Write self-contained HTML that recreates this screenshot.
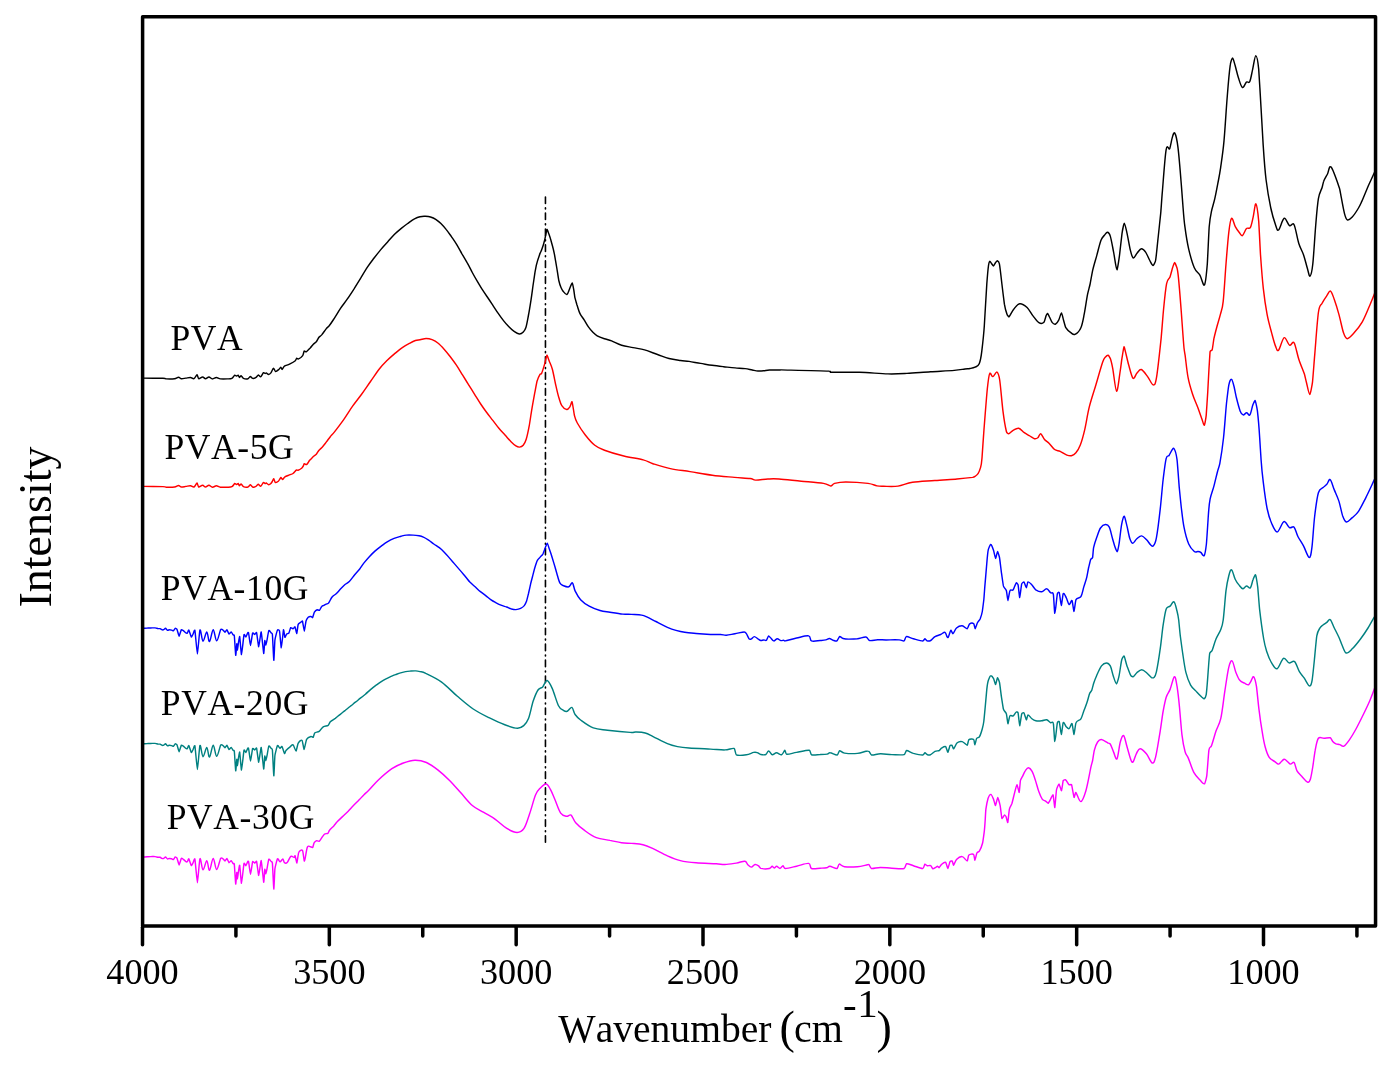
<!DOCTYPE html>
<html><head><meta charset="utf-8"><title>FTIR spectra</title><style>
html,body{margin:0;padding:0;background:#fff;width:1393px;height:1071px;overflow:hidden}
svg{display:block}
text{font-family:"Liberation Serif","Times New Roman",serif;fill:#000;font-kerning:none}
</style></head><body>
<svg width="1393" height="1071" viewBox="0 0 1393 1071">
<rect width="1393" height="1071" fill="#fff"/>
<line x1="545.45" y1="197" x2="545.45" y2="842.7" stroke="#000" stroke-width="1.6" stroke-linecap="round" stroke-dasharray="6.5 4.4 1 4.07"/>
<g fill="none" stroke-width="1.45" stroke-linejoin="round" stroke-linecap="round">
<path stroke="#000000" d="M142.9,378.1C146.2,378.1 159.1,378.2 163.0,378.3C166.9,378.4 164.5,378.8 166.4,378.9C168.3,379.0 172.5,379.0 174.5,378.7C176.5,378.4 177.3,377.2 178.5,377.2C179.7,377.2 180.2,378.5 181.4,378.7C182.6,378.9 184.4,378.3 185.9,378.1C187.4,377.9 189.2,377.4 190.5,377.5C191.8,377.6 192.9,379.2 194.0,378.7C195.1,378.2 196.3,374.7 197.1,374.7C197.4,374.7 198.2,378.5 198.6,378.7C199.5,379.1 201.4,377.0 202.6,377.0C203.8,377.0 204.4,378.7 205.5,378.7C206.6,378.7 207.8,377.0 208.9,377.0C210.1,377.0 211.2,378.8 212.4,378.9C213.7,379.0 215.1,377.5 216.4,377.5C217.7,377.5 218.6,378.7 220.4,378.9C222.2,379.1 225.4,379.0 227.3,378.9C229.2,378.8 230.7,378.9 231.9,378.3C233.2,377.7 234.0,375.6 234.8,375.2C235.1,375.1 236.3,376.1 236.5,376.1C236.7,376.1 238.0,375.1 238.2,375.2C238.4,375.3 239.2,377.5 239.4,377.5C239.6,377.5 240.8,375.5 241.1,375.6C241.4,375.7 242.9,378.1 243.4,378.3C244.6,378.8 246.8,379.0 248.0,378.7C248.5,378.6 250.0,376.4 250.3,376.4C250.6,376.4 252.2,378.3 252.6,378.4C253.5,378.6 255.1,378.0 256.0,377.4C256.4,377.2 258.0,374.9 258.3,374.9C258.6,374.9 260.3,377.1 260.6,376.9C261.5,376.5 262.7,373.2 263.5,372.6C263.8,372.4 265.0,373.5 265.2,373.5C265.4,373.5 266.1,372.8 266.3,372.9C266.5,373.0 268.3,374.4 268.6,374.4C268.9,374.4 270.6,373.3 270.9,372.9C271.7,371.9 272.8,368.4 273.6,368.2C273.9,368.1 275.1,371.5 275.5,371.6C276.4,371.8 278.1,370.1 279.0,369.3C279.4,369.0 280.7,367.1 280.9,367.1C281.1,367.1 281.9,369.5 282.1,369.4C282.3,369.3 283.9,366.5 284.4,366.2C285.6,365.3 287.7,365.1 289.5,364.2C291.3,363.3 294.1,361.8 295.3,360.8C295.8,360.4 296.5,358.3 296.7,358.2C296.9,358.1 297.7,359.3 298.1,359.1C299.1,358.7 301.7,357.0 302.7,355.6C303.1,355.1 304.0,351.2 304.2,351.0C304.4,350.8 305.8,352.1 306.2,351.9C307.2,351.4 309.0,349.1 310.2,347.9C311.4,346.6 312.1,345.5 313.1,344.4C314.2,343.3 315.6,342.6 316.5,341.5C316.9,341.0 318.5,337.9 318.8,337.5C319.7,336.4 320.4,336.4 321.7,334.9C322.9,333.4 325.1,330.1 326.3,328.6C327.6,327.1 328.1,327.1 329.2,325.7C330.3,324.3 331.3,322.9 333.2,320.0C335.1,317.1 338.2,311.9 340.5,308.4C342.8,304.9 345.0,302.4 347.2,299.2C349.4,296.0 351.6,292.6 353.9,289.1C356.1,285.6 358.4,281.9 360.7,278.2C362.9,274.5 365.2,270.6 367.4,267.2C369.6,263.8 371.9,260.9 374.1,258.0C376.3,255.1 378.6,252.3 380.8,249.6C383.1,246.9 385.4,244.5 387.6,242.0C389.9,239.5 392.1,236.7 394.3,234.5C396.5,232.3 398.8,230.4 401.0,228.6C403.2,226.8 405.4,225.1 407.7,223.5C409.9,221.9 412.4,219.9 414.5,218.8C416.6,217.7 418.2,217.1 420.0,216.7C421.8,216.3 423.4,216.2 425.2,216.3C426.9,216.4 428.8,216.5 430.5,217.0C432.2,217.5 434.0,218.2 435.7,219.3C437.4,220.4 439.2,221.8 440.9,223.5C442.6,225.2 444.4,227.2 446.1,229.4C447.9,231.6 449.6,234.1 451.4,236.6C453.1,239.1 454.9,241.6 456.6,244.4C458.3,247.2 460.1,250.6 461.8,253.6C463.6,256.6 465.4,259.6 467.1,262.7C468.9,265.8 470.6,269.3 472.3,272.5C474.0,275.7 475.8,278.8 477.5,281.7C479.2,284.6 480.9,287.5 482.7,290.2C484.4,292.9 486.2,295.4 488.0,298.0C489.8,300.6 491.5,303.3 493.2,305.9C494.9,308.5 496.6,311.2 498.4,313.7C500.1,316.2 501.9,318.7 503.7,320.9C505.4,323.1 507.2,325.1 508.9,326.8C510.6,328.6 512.4,330.2 514.1,331.4C515.8,332.6 517.8,333.9 519.3,334.0C520.8,334.1 522.2,333.1 523.3,332.0C524.4,330.9 525.0,330.3 525.9,327.5C526.8,324.7 527.6,319.7 528.5,315.0C529.4,310.3 530.2,305.0 531.1,299.3C532.0,293.6 532.8,286.6 533.7,281.0C534.0,278.7 535.9,267.2 536.3,265.4C537.3,260.8 539.1,256.1 540.0,253.6C540.3,252.6 541.3,250.9 541.5,250.3C541.7,249.7 543.1,245.7 543.3,245.0C543.5,244.3 544.6,240.5 544.8,239.5C545.0,238.5 546.7,229.8 546.9,229.4C547.1,229.0 548.3,232.5 548.5,233.0C548.7,233.5 549.8,236.5 550.1,237.4C550.4,238.3 552.2,244.9 552.5,246.0C552.8,247.1 554.2,253.1 554.5,254.6C554.8,256.1 556.5,266.3 556.8,268.0C557.1,269.7 558.5,279.2 558.8,280.5C559.1,281.8 560.7,286.8 561.0,287.5C561.3,288.2 562.7,290.7 563.1,291.2C564.1,292.4 565.8,294.9 566.9,294.5C568.0,294.1 568.6,291.0 569.5,289.1C570.4,287.2 571.6,282.9 572.3,283.0C572.6,283.1 573.6,289.0 573.8,290.0C574.0,291.0 574.7,296.7 574.9,297.7C575.1,298.7 576.7,303.9 577.0,305.0C577.9,307.6 578.8,311.1 580.0,313.6C581.2,316.1 582.9,317.8 584.3,320.1C585.7,322.4 587.2,325.2 588.6,327.2C590.0,329.2 591.5,330.9 592.9,332.3C594.3,333.7 595.3,334.7 597.2,335.8C599.1,336.9 602.0,337.9 604.4,338.7C606.8,339.5 608.7,339.8 611.6,340.9C614.5,342.0 618.0,344.1 621.6,345.2C625.2,346.3 629.3,346.8 633.1,347.6C636.9,348.4 640.5,348.8 644.6,349.9C648.7,351.0 653.4,353.1 657.5,354.5C661.6,355.9 665.2,357.5 669.0,358.5C672.8,359.5 677.1,360.0 680.5,360.5C683.9,361.0 685.8,360.9 689.1,361.4C692.5,361.9 696.8,362.8 700.6,363.4C704.4,364.0 708.3,364.8 712.1,365.3C715.9,365.9 719.8,366.3 723.6,366.7C727.4,367.1 731.5,367.6 735.1,367.9C738.7,368.2 742.2,368.2 745.1,368.6C748.0,369.0 750.1,369.6 752.3,370.0C754.4,370.4 756.1,370.9 758.0,371.0C759.9,371.1 761.9,370.9 763.8,370.7C765.7,370.5 766.8,370.1 769.5,370.0C772.2,369.9 778.0,370.0 780.0,370.0C780.8,370.0 778.1,369.8 781.3,369.9C789.4,370.1 820.4,370.7 828.7,371.1C832.0,371.3 829.0,372.2 831.1,372.3C836.2,372.5 850.0,372.0 859.5,372.3C869.0,372.6 880.1,373.7 888.0,373.9C895.9,374.1 899.8,373.8 906.9,373.4C914.0,373.0 922.7,372.3 930.6,371.8C938.5,371.3 948.6,370.9 954.3,370.4C960.0,369.9 962.4,369.3 965.0,369.0C967.6,368.7 968.3,368.8 970.0,368.5C971.7,368.2 973.5,368.0 975.0,367.2C976.5,366.4 978.1,366.5 979.2,363.8C979.7,362.7 981.5,353.7 981.8,351.2C982.1,348.7 984.0,330.5 984.3,326.0C984.6,321.5 986.5,288.0 986.8,284.0C987.1,280.0 988.3,267.0 988.5,265.5C988.7,264.0 989.6,261.4 989.8,261.3C990.0,261.2 991.3,263.2 991.5,263.5C991.7,263.8 993.2,265.9 993.5,265.9C993.8,265.9 995.1,263.3 995.3,263.0C995.5,262.7 996.9,260.7 997.2,260.8C997.5,260.9 999.1,262.3 999.4,263.8C999.7,265.3 1001.6,281.3 1001.9,284.0C1002.2,286.7 1004.1,302.2 1004.4,304.2C1005.2,309.2 1006.2,312.1 1007.0,314.2C1007.3,315.0 1008.6,317.1 1009.0,316.8C1010.1,316.0 1011.9,311.4 1013.7,309.2C1015.5,307.0 1017.4,304.1 1019.6,303.8C1021.8,303.5 1024.9,305.5 1027.1,307.5C1029.3,309.5 1031.0,313.4 1033.0,315.9C1035.0,318.4 1037.1,321.5 1038.9,322.6C1040.7,323.7 1042.7,323.4 1043.9,322.3C1044.4,321.9 1045.8,316.6 1046.0,316.0C1046.2,315.4 1047.4,313.3 1047.6,313.4C1047.8,313.5 1049.2,316.4 1049.5,317.0C1050.3,318.5 1051.3,321.4 1052.3,322.6C1053.3,323.8 1054.6,324.4 1055.7,324.0C1056.8,323.6 1057.7,322.0 1058.7,320.1C1059.7,318.2 1060.8,312.9 1061.6,312.9C1061.9,312.9 1063.2,319.0 1063.5,320.0C1063.8,321.0 1065.3,326.9 1065.8,327.7C1067.0,329.8 1069.3,331.6 1070.8,332.7C1072.3,333.8 1073.3,335.2 1075.0,334.4C1076.7,333.6 1079.4,331.1 1080.9,327.7C1082.4,324.3 1083.1,319.8 1084.2,314.2C1085.3,308.6 1086.6,299.1 1087.6,294.1C1088.0,292.1 1089.8,285.6 1090.1,284.0C1090.4,282.4 1092.2,272.5 1092.6,270.6C1093.7,265.8 1095.4,260.4 1096.8,255.4C1098.2,250.3 1099.7,243.7 1101.0,240.3C1102.3,237.0 1103.3,236.6 1104.4,235.3C1105.5,234.0 1106.4,232.2 1107.4,232.3C1108.4,232.4 1109.3,232.8 1110.3,236.1C1111.3,239.4 1112.5,246.5 1113.6,252.1C1114.7,257.7 1116.0,269.1 1117.0,269.7C1117.4,269.9 1119.2,257.8 1119.5,255.4C1119.8,253.0 1121.7,235.7 1122.0,233.6C1122.3,231.5 1123.9,223.2 1124.2,223.2C1125.0,223.2 1126.1,229.1 1127.1,233.6C1128.1,238.1 1129.4,246.3 1130.4,250.4C1131.4,254.5 1132.2,257.6 1133.3,258.0C1134.4,258.4 1135.8,254.5 1137.2,252.9C1138.6,251.3 1140.0,248.8 1141.4,248.7C1142.8,248.6 1144.2,250.1 1145.6,252.1C1147.0,254.1 1148.5,258.3 1149.8,260.5C1151.0,262.7 1152.1,265.5 1153.1,265.5C1153.5,265.5 1155.3,262.4 1155.6,260.5C1156.4,255.8 1157.3,244.8 1158.2,237.0C1158.5,233.9 1160.4,216.4 1160.7,213.4C1161.0,210.4 1161.9,196.6 1162.3,192.4C1163.2,181.8 1164.9,157.1 1166.1,149.8C1167.3,142.5 1168.7,150.6 1169.7,148.7C1170.1,148.0 1171.7,139.6 1172.0,138.6C1172.8,136.0 1173.7,131.5 1174.7,133.0C1175.7,134.5 1176.9,138.8 1178.0,147.6C1179.1,156.4 1180.6,175.6 1181.4,185.7C1181.7,189.7 1182.9,205.3 1183.1,208.0C1183.3,210.7 1184.5,224.0 1184.9,226.7C1185.8,233.5 1187.1,242.3 1188.7,249.1C1190.3,255.9 1192.4,263.3 1194.3,267.7C1196.2,272.1 1198.2,272.3 1199.9,275.2C1201.6,278.1 1203.3,286.8 1204.5,284.9C1205.7,283.0 1206.5,273.7 1207.3,264.0C1207.6,260.1 1208.9,230.2 1209.2,226.7C1209.5,223.2 1211.0,213.6 1211.4,211.7C1212.3,207.0 1213.6,204.0 1214.8,198.7C1216.0,193.4 1217.5,185.2 1218.5,180.0C1218.9,177.9 1220.2,170.4 1220.6,167.8C1221.5,161.3 1222.9,152.9 1224.0,140.9C1225.1,128.9 1226.2,108.7 1227.3,96.0C1228.3,83.3 1229.4,71.0 1230.3,64.7C1230.6,62.2 1232.2,57.8 1232.5,57.9C1233.3,58.1 1234.2,62.4 1235.2,65.8C1236.2,69.2 1237.3,74.5 1238.5,78.1C1239.7,81.7 1241.1,86.8 1242.4,87.5C1243.7,88.2 1245.2,83.1 1246.4,82.1C1247.6,81.1 1248.8,83.7 1249.8,81.5C1250.8,79.3 1251.7,73.4 1252.7,69.1C1253.7,64.8 1254.8,55.7 1255.8,55.7C1256.8,55.7 1257.8,60.5 1258.7,69.1C1259.0,72.5 1260.7,102.1 1261.0,107.2C1261.3,112.3 1262.9,140.5 1263.2,145.4C1264.0,157.5 1264.8,169.6 1266.1,180.0C1267.4,190.4 1269.2,200.5 1270.8,208.0C1272.4,215.5 1274.2,221.1 1275.5,224.8C1276.8,228.5 1277.1,231.1 1278.6,230.0C1280.0,228.9 1282.4,219.0 1284.2,218.3C1286.0,217.6 1287.8,224.6 1289.5,225.7C1291.2,226.8 1292.5,221.8 1294.1,224.8C1295.6,227.8 1297.2,238.5 1298.8,243.5C1300.4,248.5 1302.1,250.7 1303.5,254.7C1304.9,258.7 1306.1,264.1 1307.2,267.7C1308.3,271.3 1309.1,276.7 1310.0,276.1C1310.9,275.5 1311.9,272.2 1312.8,264.0C1313.7,255.8 1314.7,237.6 1315.6,226.7C1316.5,215.8 1317.3,205.2 1318.4,198.7C1319.5,192.2 1321.2,190.4 1322.1,187.5C1322.5,186.3 1323.3,182.1 1323.7,181.2C1324.6,178.9 1326.3,176.3 1327.5,174.0C1328.7,171.7 1329.1,164.8 1331.1,167.1C1333.1,169.4 1337.8,183.4 1339.4,188.0C1340.0,189.9 1340.5,193.2 1340.8,194.9C1341.6,199.2 1343.4,209.4 1344.5,213.6C1345.6,217.8 1346.0,219.2 1347.3,219.8C1348.5,220.4 1350.1,219.3 1352.0,217.3C1353.9,215.3 1356.9,210.7 1358.5,208.0C1360.1,205.3 1360.3,204.7 1361.8,201.4C1363.3,198.1 1365.9,191.6 1367.4,188.0C1368.9,184.4 1369.6,183.0 1371.0,180.0C1372.4,177.0 1374.8,171.7 1375.6,170.0"/>
<path stroke="#ff0000" d="M142.9,486.4C146.2,486.4 159.1,486.5 163.0,486.6C166.9,486.7 164.5,487.1 166.4,487.2C168.3,487.3 172.5,487.3 174.5,487.0C176.5,486.7 177.3,485.5 178.5,485.5C179.7,485.5 180.2,486.9 181.4,487.0C182.6,487.1 184.4,486.6 185.9,486.4C187.4,486.2 189.2,485.7 190.5,485.8C191.8,485.9 192.9,487.5 194.0,487.0C195.1,486.5 196.3,483.0 197.1,483.0C197.4,483.0 198.2,486.8 198.6,487.0C199.5,487.4 201.4,485.3 202.6,485.3C203.8,485.3 204.4,487.0 205.5,487.0C206.6,487.0 207.8,485.3 208.9,485.3C210.1,485.3 211.2,487.1 212.4,487.2C213.7,487.3 215.1,485.8 216.4,485.8C217.7,485.8 218.6,487.0 220.4,487.2C222.2,487.4 225.4,487.3 227.3,487.2C229.2,487.1 230.7,487.2 231.9,486.6C233.2,486.0 234.0,483.9 234.8,483.5C235.1,483.4 236.3,484.4 236.5,484.4C236.7,484.4 238.0,483.4 238.2,483.5C238.4,483.6 239.2,485.8 239.4,485.8C239.6,485.8 240.8,483.8 241.1,483.9C241.4,484.0 242.9,486.4 243.4,486.6C244.6,487.1 246.8,487.3 248.0,487.0C248.5,486.9 250.0,484.7 250.3,484.7C250.6,484.7 252.2,486.9 252.6,487.0C253.5,487.3 255.1,486.9 256.0,486.4C256.4,486.2 258.0,484.1 258.3,484.1C258.6,484.1 260.3,486.5 260.6,486.4C261.5,486.1 262.7,482.9 263.5,482.4C263.8,482.2 265.0,483.5 265.2,483.5C265.4,483.5 266.1,482.9 266.3,483.0C266.5,483.1 268.3,484.7 268.6,484.7C268.9,484.7 270.7,483.7 270.9,483.5C271.1,483.3 272.1,481.8 272.3,481.5C272.5,481.2 273.5,478.6 273.7,478.7C273.9,478.8 274.9,482.2 275.2,482.4C276.0,482.8 277.7,481.8 278.6,481.0C279.0,480.7 280.6,477.6 280.9,477.5C281.2,477.4 282.3,479.5 282.6,479.5C282.9,479.5 284.4,477.2 284.9,476.9C286.0,476.1 288.1,475.5 289.5,474.9C290.9,474.3 291.9,474.3 293.0,473.5C294.1,472.7 295.5,470.5 296.4,470.0C296.7,469.8 297.8,470.4 298.1,470.3C299.0,470.0 300.7,469.0 301.6,468.3C301.9,468.0 303.1,466.3 303.3,466.0C303.5,465.7 304.0,463.8 304.2,463.7C304.8,463.4 305.9,464.9 306.8,464.3C307.7,463.7 308.6,461.6 309.6,460.3C310.7,459.1 312.0,457.9 313.1,456.8C314.2,455.8 315.6,455.1 316.5,454.0C316.9,453.6 318.4,451.0 318.8,450.5C319.9,449.2 321.5,448.0 322.8,446.5C324.1,445.0 325.6,442.9 326.9,441.3C328.1,439.7 329.0,438.3 330.3,436.7C331.6,435.1 332.5,434.5 334.7,431.6C336.9,428.8 340.7,423.8 343.7,419.6C346.7,415.4 349.6,410.4 352.6,406.2C355.6,402.0 358.6,398.3 361.6,394.2C364.6,390.1 367.5,385.7 370.5,381.5C373.5,377.3 376.8,372.3 379.5,368.8C382.2,365.3 384.5,363.1 387.0,360.6C389.5,358.1 391.9,356.0 394.4,353.9C396.9,351.8 399.4,349.6 401.9,347.9C404.4,346.1 407.1,344.6 409.4,343.4C411.6,342.2 413.6,341.1 415.4,340.5C417.2,339.9 418.2,340.0 420.0,339.7C421.8,339.4 424.1,338.5 426.1,338.5C428.1,338.5 430.1,338.9 432.1,339.7C434.1,340.5 436.2,341.7 438.2,343.3C440.2,344.9 442.3,347.2 444.3,349.4C446.3,351.6 448.3,354.1 450.3,356.7C452.3,359.3 454.4,362.2 456.4,365.2C458.4,368.2 460.5,371.7 462.5,374.9C464.5,378.1 466.5,381.4 468.5,384.6C470.5,387.8 472.6,391.1 474.6,394.3C476.6,397.5 478.7,401.0 480.7,404.0C482.7,407.0 484.7,409.8 486.7,412.5C488.7,415.2 490.8,417.8 492.8,420.4C494.8,423.0 496.9,425.9 498.9,428.3C500.9,430.7 503.0,432.8 505.0,435.0C507.0,437.2 509.2,439.9 511.0,441.7C512.8,443.5 514.5,445.0 515.9,445.9C517.3,446.8 518.3,447.2 519.5,447.1C520.7,447.0 522.1,446.6 523.2,445.3C524.3,444.0 525.2,442.4 526.2,439.2C527.2,436.0 528.3,430.8 529.2,425.9C529.6,424.0 531.3,412.3 531.7,410.1C532.6,404.6 533.8,398.0 534.7,393.1C535.1,391.2 536.7,382.3 537.1,381.0C538.0,377.9 539.3,375.5 540.0,374.3C540.3,373.8 541.2,374.2 541.5,373.6C542.2,372.0 543.5,368.0 544.4,364.9C544.8,363.7 546.6,355.5 546.9,355.2C547.2,354.9 548.8,360.0 549.2,361.0C550.1,363.4 551.4,365.5 552.5,369.7C553.6,373.9 554.9,381.5 556.0,386.2C557.1,390.9 557.9,394.6 558.9,397.8C559.9,401.0 560.5,403.7 561.8,405.6C563.1,407.6 565.3,409.3 566.7,409.5C568.1,409.7 569.1,407.9 570.0,406.6C570.4,406.1 571.8,401.1 572.1,401.7C572.4,402.3 574.1,413.9 574.4,415.3C575.3,418.9 575.5,419.8 577.3,423.0C579.1,426.2 582.2,431.0 585.1,434.7C588.0,438.4 591.6,442.7 594.8,445.3C598.0,447.9 599.7,448.4 604.5,450.2C609.3,452.0 617.3,454.4 623.8,456.0C630.2,457.6 638.4,458.6 643.2,459.9C648.1,461.2 648.4,462.2 652.9,463.7C657.4,465.1 664.2,467.3 670.4,468.6C676.6,469.9 683.0,470.5 690.0,471.6C697.0,472.7 704.9,474.2 712.3,475.2C719.7,476.2 728.2,476.8 734.5,477.4C740.8,477.9 746.6,478.1 750.1,478.5C753.6,478.9 752.6,480.0 755.6,480.1C758.6,480.2 764.0,479.2 767.9,479.0C771.8,478.8 773.4,478.6 779.0,479.0C784.6,479.4 793.9,480.5 801.3,481.2C808.7,481.9 818.6,482.6 823.5,483.4C828.4,484.2 828.8,485.9 830.6,485.9C832.5,485.9 832.1,484.1 834.6,483.4C837.1,482.7 840.2,481.9 845.8,481.9C851.4,481.9 862.8,482.7 868.0,483.4C873.2,484.1 874.3,485.4 876.9,485.9C879.5,486.4 880.1,486.3 883.6,486.3C887.1,486.3 893.2,486.8 898.0,486.1C902.8,485.4 906.4,483.2 912.5,482.3C918.6,481.4 927.4,481.1 934.8,480.5C942.2,479.9 950.7,479.5 957.0,479.0C963.3,478.5 969.6,477.8 972.6,477.4C973.8,477.2 974.6,476.7 975.0,476.4C975.9,475.7 977.3,474.9 978.2,473.4C978.6,472.8 980.3,468.4 980.6,467.4C980.9,466.4 981.8,460.5 982.0,458.0C982.2,455.5 983.6,433.9 984.0,429.3C984.9,417.8 986.4,398.3 987.3,389.0C987.7,385.3 989.2,374.5 989.6,373.7C990.5,371.6 991.7,376.9 992.9,376.6C994.1,376.3 995.9,371.5 997.0,372.1C998.1,372.7 998.7,373.4 999.7,380.0C1000.7,386.6 1001.9,402.8 1003.0,411.4C1004.1,420.0 1005.5,427.8 1006.4,431.5C1006.8,433.0 1008.2,433.9 1008.6,433.8C1009.7,433.6 1011.4,431.3 1013.1,430.4C1014.8,429.5 1016.8,427.8 1018.7,428.2C1020.6,428.6 1022.4,431.4 1024.3,432.7C1026.2,434.0 1028.2,435.0 1029.9,436.0C1031.6,437.0 1033.1,438.4 1034.4,438.7C1035.7,439.0 1036.8,438.6 1037.8,437.8C1038.8,437.0 1039.6,433.5 1040.7,433.8C1041.8,434.1 1043.1,437.8 1044.5,439.4C1045.9,441.0 1047.3,441.5 1049.0,443.2C1050.7,444.9 1052.7,448.1 1054.6,449.5C1056.5,450.9 1058.2,450.4 1060.2,451.3C1062.2,452.2 1065.0,454.4 1066.9,455.1C1068.8,455.8 1069.9,456.1 1071.4,455.7C1072.9,455.3 1074.4,454.6 1075.9,452.8C1077.4,451.0 1078.8,448.9 1080.3,445.0C1081.8,441.1 1083.3,435.7 1084.8,429.3C1086.3,422.9 1087.4,414.4 1089.3,406.9C1091.2,399.4 1093.8,392.0 1096.0,384.5C1098.2,377.0 1101.1,366.7 1102.7,362.1C1104.3,357.5 1104.6,358.1 1105.5,357.0C1106.4,355.9 1107.5,355.0 1108.3,355.3C1108.6,355.4 1110.2,358.1 1110.5,359.0C1110.8,359.9 1112.4,366.7 1112.8,368.8C1113.8,374.2 1115.4,390.8 1116.6,391.2C1117.8,391.6 1119.3,376.5 1120.2,371.0C1120.6,368.8 1121.7,359.6 1122.0,358.0C1122.3,356.4 1123.7,347.1 1124.0,346.8C1124.3,346.5 1125.7,352.8 1126.0,354.0C1126.3,355.2 1128.0,362.7 1128.5,364.3C1129.7,368.3 1131.6,376.8 1133.0,378.2C1134.4,379.6 1135.6,374.4 1137.0,373.0C1138.4,371.6 1139.5,368.9 1141.3,369.5C1143.1,370.1 1145.6,374.0 1147.6,376.6C1149.6,379.2 1151.7,384.7 1153.2,384.9C1154.7,385.1 1155.2,385.2 1156.5,377.7C1157.8,370.1 1159.8,350.9 1161.0,339.6C1161.5,335.1 1163.1,313.7 1163.5,310.0C1164.4,300.7 1165.5,289.1 1166.6,283.6C1167.7,278.1 1169.0,279.5 1170.0,276.9C1170.4,275.9 1172.2,269.0 1172.5,268.0C1172.8,267.0 1174.3,262.5 1174.6,262.5C1174.9,262.5 1176.7,267.0 1177.0,268.0C1177.3,269.0 1178.1,274.3 1178.4,277.1C1179.1,284.2 1180.3,298.9 1181.2,310.7C1182.1,322.5 1183.3,340.6 1184.0,348.0C1184.3,351.0 1184.8,353.1 1185.1,355.1C1185.8,360.1 1186.8,371.2 1188.1,377.7C1189.3,384.2 1191.0,389.3 1192.6,394.3C1194.2,399.3 1196.4,403.8 1197.9,407.8C1199.4,411.8 1200.6,415.5 1201.7,418.4C1202.8,421.3 1203.7,425.7 1204.4,425.2C1204.7,425.0 1206.0,417.6 1206.2,415.4C1206.4,413.2 1207.5,395.8 1207.7,392.8C1207.9,389.8 1208.7,372.9 1208.9,370.2C1209.1,367.5 1209.9,353.1 1210.1,351.7C1210.3,350.3 1211.9,350.7 1212.2,349.8C1212.5,348.9 1213.6,340.2 1213.9,338.7C1214.7,335.0 1215.6,331.6 1216.7,327.5C1217.8,323.4 1219.3,318.8 1220.4,314.4C1221.5,310.0 1222.3,309.7 1223.2,301.3C1224.1,292.9 1225.1,275.5 1226.0,264.0C1226.9,252.5 1227.9,239.9 1228.8,232.3C1229.7,224.7 1230.5,219.2 1231.6,218.3C1232.7,217.4 1234.0,224.4 1235.3,226.7C1236.5,229.0 1237.9,230.8 1239.1,232.3C1240.3,233.8 1241.2,236.2 1242.4,235.6C1243.6,235.0 1245.2,229.8 1246.5,228.5C1247.8,227.2 1249.2,229.5 1250.3,227.6C1251.4,225.7 1252.2,221.2 1253.1,217.3C1254.0,213.4 1255.0,203.3 1255.9,203.9C1256.8,204.5 1257.9,212.6 1258.7,221.1C1259.0,224.5 1260.2,250.2 1260.5,254.7C1261.3,265.9 1262.2,278.4 1263.3,288.3C1264.4,298.2 1265.7,306.9 1267.1,314.4C1268.5,321.9 1270.3,327.8 1271.7,333.1C1273.1,338.4 1274.3,343.2 1275.5,346.1C1276.7,349.0 1277.1,351.6 1278.6,350.2C1280.0,348.8 1282.4,338.5 1284.2,337.7C1286.0,336.9 1287.8,344.3 1289.5,345.2C1291.2,346.1 1292.5,340.5 1294.1,342.8C1295.6,345.1 1297.1,354.0 1298.8,359.2C1300.5,364.4 1303.1,370.3 1304.4,374.1C1304.9,375.6 1306.0,380.8 1306.4,382.2C1307.3,385.6 1308.9,394.6 1309.9,394.6C1310.3,394.6 1312.2,384.8 1312.5,382.2C1312.8,379.6 1314.3,359.7 1314.7,355.1C1315.7,343.5 1317.2,321.1 1318.4,312.5C1319.6,303.9 1320.7,306.0 1322.1,303.2C1323.5,300.4 1325.4,297.7 1326.8,295.7C1328.2,293.7 1329.2,290.5 1330.5,291.1C1331.8,291.7 1332.9,295.6 1334.3,299.5C1335.7,303.4 1337.4,308.8 1338.9,314.4C1340.5,320.0 1342.2,329.1 1343.6,333.1C1345.0,337.2 1345.6,338.7 1347.3,338.7C1349.0,338.7 1351.4,335.9 1353.9,333.1C1356.4,330.3 1359.7,326.5 1362.3,321.9C1364.9,317.3 1367.5,310.6 1369.7,305.5C1371.9,300.4 1374.6,293.4 1375.6,291.0"/>
<path stroke="#0000ff" d="M142.9,628.3C143.6,628.3 145.9,628.2 147.2,628.1C148.5,628.0 149.5,627.9 150.8,627.9C152.1,627.9 153.9,627.8 155.1,627.9C156.3,628.0 157.1,628.4 157.9,628.5C158.2,628.5 159.8,628.5 160.1,628.6C160.4,628.7 161.7,629.6 161.9,629.7C162.1,629.8 163.5,629.8 163.7,629.7C163.9,629.6 165.2,628.3 165.5,628.3C165.8,628.3 167.3,630.3 167.6,630.4C167.9,630.5 169.1,629.7 169.4,629.7C169.7,629.7 171.3,630.0 171.6,630.1C171.9,630.2 173.2,631.0 173.4,630.9C173.6,630.8 175.0,628.4 175.2,628.3C175.4,628.2 176.7,628.9 177.0,629.4C177.3,629.9 178.8,636.2 179.1,636.2C179.4,636.2 181.0,630.1 181.3,629.7C181.6,629.3 182.8,630.2 183.1,630.4C183.9,630.9 185.2,632.5 185.9,632.9C186.2,633.1 187.2,633.1 187.4,632.9C187.6,632.7 188.5,629.8 188.8,630.1C189.1,630.4 191.0,636.6 191.3,636.9C191.6,637.2 192.9,634.4 193.1,634.0C193.3,633.6 194.6,629.1 194.9,630.4C195.2,631.7 197.1,654.1 197.4,654.1C197.7,654.1 199.5,631.0 199.9,630.1C200.8,628.0 201.8,640.9 203.0,641.2C204.2,641.5 205.7,631.8 206.8,631.9C207.9,632.0 208.4,642.0 209.5,641.6C210.6,641.2 212.0,629.8 213.2,629.7C214.4,629.6 215.4,640.8 216.7,640.8C218.0,640.8 219.7,631.1 220.8,629.4C221.2,628.7 223.0,630.2 223.3,630.4C223.6,630.6 224.9,632.2 225.1,632.2C225.3,632.2 226.6,629.6 226.9,629.7C227.2,629.8 228.7,633.9 229.0,634.0C229.3,634.1 230.9,631.8 231.2,631.9C231.5,632.0 233.1,634.9 233.3,635.1C233.5,635.3 234.1,634.2 234.3,635.5C234.5,636.8 235.5,654.7 235.7,655.3C235.9,655.9 236.7,644.1 236.8,643.8C236.9,643.5 237.4,650.3 237.5,650.3C237.6,650.3 238.2,644.7 238.3,643.8C238.4,642.9 239.5,635.9 239.7,636.6C239.9,637.3 241.2,654.7 241.5,654.6C241.8,654.5 243.7,636.0 244.0,634.8C244.3,633.6 245.5,637.1 245.8,637.0C246.6,636.6 247.7,631.3 248.5,632.7C248.8,633.3 250.2,645.6 250.5,645.6C250.8,645.6 252.3,633.7 252.6,633.0C252.9,632.3 254.5,634.5 254.8,634.5C255.1,634.5 256.3,631.9 256.6,632.7C256.9,633.5 258.4,646.8 258.7,646.7C259.0,646.6 260.9,631.4 261.2,631.9C261.5,632.4 263.5,652.9 263.7,653.5C263.9,654.1 264.7,641.2 264.8,640.6C264.9,640.0 265.8,645.2 265.9,645.2C266.0,645.2 266.8,641.2 267.0,640.2C267.2,639.2 268.5,631.0 268.8,630.5C269.1,630.0 271.1,632.7 271.3,633.0C271.5,633.3 272.2,632.7 272.4,634.5C272.6,636.3 273.6,659.9 273.8,660.3C274.0,660.7 274.7,642.2 274.9,640.2C275.1,638.2 277.1,630.8 277.4,630.2C277.7,629.6 279.2,629.7 279.5,630.9C279.8,632.1 281.0,647.8 281.3,647.7C281.6,647.6 283.3,630.5 283.5,629.8C283.7,629.1 284.7,637.0 284.9,637.3C285.1,637.6 286.4,634.4 286.7,634.1C287.0,633.8 288.6,633.4 288.9,633.0C289.2,632.6 290.4,627.9 290.7,627.6C291.0,627.3 292.9,628.7 293.2,628.7C293.5,628.7 294.8,626.6 295.0,626.9C295.2,627.2 296.6,633.6 296.8,633.4C297.0,633.2 297.9,625.1 298.2,624.4C298.5,623.7 300.4,622.5 300.7,622.3C301.0,622.1 302.3,620.6 302.5,621.2C302.7,621.8 304.1,631.2 304.3,631.2C304.5,631.2 305.8,621.7 306.1,620.8C306.4,619.9 307.9,617.5 308.2,617.2C309.0,616.5 310.4,616.4 311.1,616.5C311.4,616.5 312.4,617.9 312.6,617.6C312.8,617.3 314.1,612.7 314.4,612.2C315.2,610.9 316.4,610.0 317.2,609.7C317.5,609.6 319.1,610.6 319.4,610.4C319.7,610.2 321.4,606.8 321.7,606.5C322.5,605.6 323.4,605.6 324.3,605.2C324.6,605.0 326.6,604.0 326.9,603.9C327.2,603.8 328.3,603.5 328.6,603.0C329.5,601.9 330.8,598.6 332.1,597.0C333.4,595.4 335.0,594.9 336.4,593.5C337.8,592.1 339.3,590.3 340.7,588.8C342.1,587.3 343.6,585.7 345.0,584.5C346.4,583.3 347.7,583.1 349.3,581.5C350.9,579.9 352.8,577.1 354.5,575.0C356.2,572.9 358.1,571.0 359.7,569.0C361.3,567.0 362.4,564.9 364.0,562.9C365.6,560.9 367.2,558.9 369.1,556.9C371.0,554.9 373.2,552.7 375.2,550.9C377.2,549.1 379.2,547.6 381.2,546.1C383.2,544.6 385.0,543.1 387.2,541.8C389.4,540.5 391.8,539.3 394.1,538.4C396.4,537.5 399.0,536.8 401.0,536.2C403.0,535.7 404.2,535.3 406.2,535.1C408.2,534.9 411.0,535.0 413.1,535.1C415.2,535.2 417.4,535.5 419.1,535.8C420.8,536.1 421.8,536.4 423.4,537.1C425.0,537.8 426.9,539.0 428.6,540.1C430.3,541.2 432.0,542.7 433.8,544.0C435.6,545.3 437.6,546.4 439.3,547.7C441.0,549.0 442.4,550.3 444.0,551.9C445.6,553.5 447.0,555.1 448.7,557.1C450.4,559.1 452.4,561.4 454.3,563.6C456.2,565.8 458.0,567.9 459.9,570.1C461.8,572.3 463.8,574.7 465.5,576.7C467.2,578.7 468.6,580.7 470.1,582.3C471.7,583.9 473.1,585.0 474.8,586.5C476.5,588.0 478.5,590.1 480.4,591.6C482.3,593.1 484.3,594.5 486.0,595.8C487.7,597.1 489.1,598.5 490.7,599.6C492.3,600.7 493.7,601.5 495.4,602.4C497.1,603.3 499.1,604.4 501.0,605.2C502.9,606.0 504.9,606.4 506.6,607.0C508.3,607.6 509.6,608.5 511.2,608.9C512.8,609.3 514.3,609.7 515.9,609.6C517.5,609.5 519.2,609.1 520.6,608.4C522.0,607.7 523.3,606.8 524.3,605.6C524.7,605.1 526.3,601.8 526.6,601.0C526.9,600.2 528.2,594.7 528.5,593.5C528.8,592.3 530.5,584.5 530.8,583.2C531.1,581.9 532.9,575.1 533.2,573.9C533.5,572.7 535.2,566.4 535.5,565.5C535.8,564.6 537.1,560.9 537.4,560.3C538.2,558.9 539.3,558.2 540.2,557.1C541.1,556.0 542.1,555.4 543.0,553.8C543.3,553.2 545.0,548.4 545.3,547.7C545.6,547.0 546.9,543.0 547.2,543.1C547.5,543.2 549.2,548.6 549.5,549.6C550.4,552.1 551.4,555.0 552.3,558.0C553.2,561.0 554.2,564.3 555.1,567.3C555.4,568.5 557.2,574.7 557.5,575.8C557.8,576.9 559.6,582.5 560.0,583.2C561.0,584.9 561.9,585.1 563.4,585.7C564.9,586.3 567.3,587.3 568.8,586.8C570.3,586.3 571.3,582.2 572.4,582.9C573.5,583.6 573.8,588.3 575.2,591.1C576.6,593.9 578.3,597.2 580.6,599.7C582.9,602.2 586.0,604.4 589.2,606.2C592.4,608.0 596.5,609.5 600.0,610.5C603.5,611.5 606.2,611.6 610.0,612.2C613.8,612.8 619.3,613.7 622.9,614.1C626.5,614.5 628.4,614.2 631.5,614.4C634.6,614.6 639.0,614.6 641.6,615.1C644.2,615.6 644.9,616.1 647.3,617.2C649.7,618.3 652.5,619.8 655.9,621.5C659.2,623.2 664.0,625.8 667.4,627.3C670.8,628.8 673.1,629.6 676.0,630.4C678.9,631.2 681.4,631.8 684.7,632.3C688.1,632.8 691.8,633.1 696.1,633.5C700.4,633.9 706.4,634.3 710.5,634.5C714.6,634.7 718.0,634.4 720.6,634.5C723.2,634.6 723.9,635.3 726.3,635.2C728.7,635.1 731.9,634.2 734.9,633.7C737.9,633.2 742.3,631.9 744.2,631.9C745.0,631.9 746.1,633.2 746.4,633.7C747.2,634.9 748.5,638.2 749.3,639.1C749.6,639.4 751.1,639.0 751.4,638.8C752.2,638.4 753.2,636.6 754.3,636.6C755.4,636.6 756.8,638.1 757.9,638.8C759.0,639.4 759.8,640.3 760.8,640.5C761.8,640.7 762.6,639.9 763.6,639.9C764.6,639.9 765.7,640.9 766.5,640.2C766.8,639.9 768.3,636.0 768.6,635.9C768.9,635.8 770.5,637.7 770.8,638.0C771.6,638.8 772.6,640.8 773.7,640.9C774.8,641.0 776.1,638.8 777.3,638.8C778.5,638.8 779.8,640.4 780.9,640.6C782.0,640.8 783.0,640.2 783.7,640.2C784.0,640.2 784.3,641.0 785.2,640.9C787.4,640.5 792.7,638.8 796.6,638.0C800.5,637.2 806.1,635.4 808.6,635.9C811.1,636.4 809.6,640.1 811.5,640.9C813.4,641.7 817.7,640.7 820.1,640.5C822.5,640.3 824.2,640.2 825.8,639.9C827.3,639.6 828.2,638.5 829.4,638.5C830.6,638.5 831.7,639.8 833.0,640.2C834.3,640.6 835.9,641.5 837.0,640.9C837.4,640.7 839.1,636.8 839.5,636.6C840.5,636.2 841.6,638.1 843.1,638.5C844.6,638.9 846.4,639.1 848.8,639.1C851.2,639.1 854.5,639.1 857.4,638.8C860.3,638.4 864.0,636.7 866.0,637.0C868.0,637.3 867.7,640.0 869.6,640.5C871.5,641.0 874.8,639.9 877.5,639.8C880.2,639.7 882.5,639.9 886.1,639.9C889.7,639.9 896.1,639.7 899.1,639.9C902.1,640.1 902.9,641.4 904.1,640.9C904.6,640.7 905.6,636.7 906.2,636.6C907.8,636.2 910.6,638.1 913.4,638.8C916.2,639.5 920.9,640.9 922.8,640.9C923.6,640.9 924.6,638.8 924.9,638.8C925.2,638.8 926.7,640.8 927.1,640.9C928.1,641.2 929.4,641.2 930.7,640.5C932.0,639.8 933.3,637.6 935.0,636.6C936.7,635.6 939.0,635.2 940.7,634.5C942.4,633.8 943.8,631.8 945.0,632.3C946.2,632.8 946.9,638.0 947.9,637.6C948.9,637.2 950.0,630.9 950.8,630.2C951.1,629.9 952.5,633.8 952.9,633.7C953.9,633.3 955.0,629.3 956.5,628.0C958.0,626.7 960.4,625.7 962.2,625.8C964.0,625.9 966.1,629.0 967.3,628.7C967.8,628.6 969.0,624.4 969.4,624.1C970.5,623.3 972.7,622.9 973.7,623.7C974.1,624.0 975.0,628.7 975.2,628.7C975.4,628.7 977.0,623.7 977.3,623.0C978.1,621.3 979.4,620.6 980.2,618.7C980.5,617.9 982.1,612.7 982.3,611.5C982.5,610.3 983.6,601.6 983.8,600.0C984.0,598.4 984.6,589.3 984.8,586.9C985.0,584.5 986.6,565.8 986.8,563.3C987.0,560.8 988.0,550.9 988.3,549.6C988.6,548.3 990.3,544.2 990.7,544.3C991.6,544.5 992.8,548.2 993.6,550.6C993.9,551.5 995.3,558.3 995.6,558.4C995.9,558.5 997.2,551.7 997.5,551.6C997.8,551.5 999.2,556.1 999.5,557.5C999.8,558.9 1001.2,571.2 1001.5,573.1C1001.8,575.0 1003.1,584.7 1003.4,585.9C1004.2,588.8 1005.6,588.3 1006.4,590.8C1006.7,591.8 1007.7,600.6 1007.9,600.6C1008.1,600.6 1009.5,591.5 1009.9,590.8C1010.8,589.0 1012.2,591.1 1013.2,589.8C1014.2,588.5 1015.4,583.7 1016.2,582.9C1016.5,582.6 1017.9,583.9 1018.1,584.9C1018.3,585.9 1019.5,597.7 1019.7,597.6C1019.9,597.5 1021.4,584.9 1021.7,583.9C1022.0,582.9 1023.7,581.7 1024.0,582.0C1024.3,582.3 1026.1,587.8 1026.4,587.8C1026.7,587.8 1027.5,582.2 1027.9,582.0C1028.8,581.5 1030.6,583.6 1031.9,584.9C1033.2,586.2 1034.2,588.6 1035.8,589.8C1037.4,590.9 1039.9,592.0 1041.7,591.8C1043.5,591.6 1045.1,588.6 1046.6,588.8C1048.1,588.9 1049.4,591.7 1050.5,592.7C1051.6,593.7 1052.7,591.3 1053.4,594.7C1053.7,596.1 1054.5,613.4 1054.8,613.3C1055.5,613.1 1056.7,597.1 1057.4,593.7C1057.7,592.3 1059.0,591.9 1059.3,592.7C1059.6,593.5 1061.0,605.4 1061.3,605.5C1061.6,605.6 1062.9,594.2 1063.2,593.7C1064.0,592.4 1065.2,595.8 1066.2,597.6C1067.2,599.4 1068.1,604.0 1069.1,604.5C1070.1,605.0 1071.3,599.5 1072.1,600.6C1072.4,601.1 1073.7,611.5 1074.0,611.4C1074.3,611.3 1075.5,600.6 1076.0,599.6C1077.2,597.2 1079.6,598.8 1080.9,596.7C1082.2,594.6 1082.8,590.2 1083.8,586.9C1084.8,583.6 1086.0,580.4 1086.8,577.1C1087.1,575.8 1088.4,568.5 1088.7,567.3C1089.0,566.1 1090.4,560.1 1090.7,559.4C1091.0,558.7 1092.4,558.3 1092.6,557.5C1092.8,556.7 1093.3,548.9 1093.6,547.6C1094.3,544.3 1095.4,541.1 1096.6,537.8C1097.8,534.5 1099.0,530.2 1100.5,528.0C1102.0,525.8 1103.9,524.6 1105.4,524.5C1106.9,524.4 1108.2,524.9 1109.3,527.1C1110.4,529.3 1111.3,534.4 1112.3,537.8C1113.3,541.2 1114.4,545.3 1115.2,547.6C1115.5,548.5 1116.9,551.9 1117.2,551.6C1117.5,551.3 1118.8,545.5 1119.1,543.7C1119.8,539.1 1120.8,528.7 1121.7,524.1C1122.6,519.5 1123.5,516.0 1124.4,516.3C1124.8,516.4 1126.6,524.6 1127.0,526.1C1127.9,529.9 1128.9,535.9 1129.9,538.8C1130.9,541.7 1131.7,543.3 1132.8,543.3C1133.9,543.3 1135.3,540.0 1136.8,538.8C1138.3,537.6 1140.1,535.7 1141.7,535.9C1143.3,536.1 1145.1,538.3 1146.6,539.8C1148.1,541.3 1149.4,543.7 1150.5,544.7C1151.6,545.7 1152.4,546.9 1153.4,545.7C1154.4,544.6 1155.2,544.0 1156.4,537.8C1157.6,531.6 1159.2,518.2 1160.3,508.4C1161.4,498.6 1162.2,487.3 1163.2,479.0C1164.2,470.7 1165.2,462.3 1166.2,458.4C1167.2,454.5 1168.3,456.6 1169.1,455.5C1169.4,455.0 1170.8,452.1 1171.1,451.6C1171.9,450.5 1173.0,447.3 1174.0,448.6C1175.0,449.9 1176.1,452.8 1177.0,459.4C1177.4,462.0 1179.0,484.8 1179.3,488.0C1179.6,491.2 1180.9,504.1 1181.2,506.7C1182.0,513.2 1182.8,521.0 1184.0,527.2C1185.2,533.4 1187.0,540.0 1188.7,544.0C1190.4,548.0 1192.8,550.2 1194.3,551.5C1195.8,552.8 1196.9,551.4 1198.0,551.5C1199.1,551.6 1199.8,551.7 1200.8,552.4C1201.8,553.1 1203.3,557.0 1204.2,555.6C1204.6,555.0 1206.1,546.6 1206.4,544.0C1206.7,541.4 1208.1,519.0 1208.3,516.0C1208.5,513.0 1209.7,501.2 1210.1,499.2C1211.0,494.2 1212.7,490.8 1213.9,486.1C1215.2,481.4 1216.6,474.9 1217.6,471.2C1218.0,469.7 1219.4,465.8 1219.8,463.6C1220.8,458.1 1222.4,448.1 1223.5,438.0C1224.6,427.9 1225.6,412.1 1226.5,403.3C1226.9,399.8 1228.5,386.8 1228.8,385.2C1229.6,381.2 1230.6,378.9 1231.5,379.2C1231.9,379.3 1233.8,385.5 1234.1,386.7C1234.4,387.9 1235.9,395.7 1236.3,397.3C1237.3,401.3 1239.0,408.0 1240.1,410.9C1241.2,413.8 1242.0,414.6 1243.1,414.9C1244.2,415.2 1245.5,412.8 1246.6,412.8C1247.7,412.8 1248.9,416.2 1249.9,414.9C1251.0,413.6 1252.0,407.2 1252.9,404.8C1253.3,403.8 1254.9,400.2 1255.2,400.6C1255.5,401.0 1257.1,408.4 1257.4,410.9C1257.7,413.4 1259.5,434.7 1259.7,438.0C1259.9,441.3 1260.9,457.0 1261.1,460.0C1261.3,463.0 1262.9,479.2 1263.3,482.4C1264.3,490.5 1265.7,501.6 1267.1,508.5C1268.5,515.4 1270.0,519.6 1271.7,523.5C1273.4,527.4 1275.3,532.2 1277.3,531.9C1279.3,531.6 1281.9,522.3 1283.9,521.6C1285.9,520.9 1287.8,526.7 1289.5,527.6C1291.2,528.5 1292.7,525.7 1294.1,527.2C1295.5,528.7 1296.3,533.4 1297.9,536.5C1299.5,539.6 1301.6,542.4 1303.5,545.9C1305.4,549.4 1307.7,557.1 1309.1,557.4C1310.5,557.7 1311.0,554.6 1311.9,547.7C1312.8,540.8 1313.6,525.2 1314.7,516.0C1315.8,506.8 1317.0,497.4 1318.4,492.7C1319.8,488.0 1321.7,489.0 1323.1,487.6C1324.5,486.2 1325.6,485.6 1326.8,484.3C1328.0,483.0 1329.0,478.7 1330.2,479.6C1331.5,480.5 1332.8,486.3 1334.3,489.9C1335.8,493.5 1337.5,496.8 1338.9,501.1C1340.3,505.5 1341.5,512.5 1342.7,516.0C1344.0,519.5 1344.9,521.7 1346.4,522.0C1348.0,522.3 1350.0,519.7 1352.0,517.9C1354.0,516.1 1356.2,514.7 1358.5,511.3C1360.8,507.9 1363.3,502.6 1366.0,497.3C1368.7,492.0 1372.8,482.9 1374.4,479.6C1375.0,478.3 1375.5,477.6 1375.6,477.5"/>
<path stroke="#008080" d="M142.9,743.8C143.6,743.8 145.9,743.7 147.2,743.6C148.5,743.5 149.5,743.4 150.8,743.4C152.1,743.4 153.9,743.3 155.1,743.4C156.3,743.5 157.1,743.9 157.9,744.0C158.2,744.0 159.8,744.0 160.1,744.1C160.4,744.2 161.7,745.1 161.9,745.2C162.1,745.3 163.5,745.3 163.7,745.2C163.9,745.1 165.2,743.8 165.5,743.8C165.8,743.8 167.3,745.8 167.6,745.9C167.9,746.0 169.1,745.2 169.4,745.2C169.7,745.2 171.3,745.5 171.6,745.6C171.9,745.7 173.2,746.5 173.4,746.4C173.6,746.3 175.0,743.9 175.2,743.8C175.4,743.7 176.7,744.4 177.0,744.9C177.3,745.4 178.8,751.7 179.1,751.7C179.4,751.7 181.0,745.6 181.3,745.2C181.6,744.8 182.8,745.7 183.1,745.9C183.9,746.4 185.2,748.0 185.9,748.4C186.2,748.6 187.2,748.6 187.4,748.4C187.6,748.2 188.5,745.3 188.8,745.6C189.1,745.9 191.0,752.1 191.3,752.4C191.6,752.7 192.9,749.9 193.1,749.5C193.3,749.1 194.6,744.6 194.9,745.9C195.2,747.2 197.1,769.6 197.4,769.6C197.7,769.6 199.5,746.5 199.9,745.6C200.8,743.5 201.8,756.4 203.0,756.7C204.2,757.0 205.7,747.3 206.8,747.4C207.9,747.5 208.4,757.5 209.5,757.1C210.6,756.7 212.0,745.3 213.2,745.2C214.4,745.1 215.4,756.3 216.7,756.3C218.0,756.2 219.7,746.6 220.8,744.9C221.2,744.2 223.0,745.7 223.3,745.9C223.6,746.1 224.9,747.7 225.1,747.7C225.3,747.7 226.6,745.1 226.9,745.2C227.2,745.3 228.7,749.4 229.0,749.5C229.3,749.6 230.9,747.3 231.2,747.4C231.5,747.5 233.1,750.4 233.3,750.6C233.5,750.8 234.1,749.7 234.3,751.0C234.5,752.3 235.5,770.2 235.7,770.8C235.9,771.4 236.7,759.6 236.8,759.3C236.9,759.0 237.4,765.8 237.5,765.8C237.6,765.8 238.2,760.2 238.3,759.3C238.4,758.4 239.5,751.4 239.7,752.1C239.9,752.8 241.2,770.2 241.5,770.1C241.8,770.0 243.7,751.5 244.0,750.3C244.3,749.1 245.5,752.6 245.8,752.5C246.6,752.1 247.7,746.8 248.5,748.2C248.8,748.8 250.2,761.1 250.5,761.1C250.8,761.1 252.3,749.2 252.6,748.5C252.9,747.8 254.5,750.0 254.8,750.0C255.1,750.0 256.3,747.4 256.6,748.2C256.9,749.0 258.4,762.3 258.7,762.2C259.0,762.1 260.9,746.9 261.2,747.4C261.5,747.9 263.5,768.4 263.7,769.0C263.9,769.6 264.7,756.7 264.8,756.1C264.9,755.5 265.8,760.7 265.9,760.7C266.0,760.7 266.8,756.7 267.0,755.7C267.2,754.7 268.5,746.5 268.8,746.0C269.1,745.5 271.1,748.2 271.3,748.5C271.5,748.8 272.2,748.2 272.4,750.0C272.6,751.8 273.6,775.4 273.8,775.8C274.0,776.2 274.7,757.7 274.9,755.7C275.1,753.7 277.1,746.2 277.4,745.7C278.2,744.5 279.2,748.3 280.0,748.4C280.3,748.4 281.7,746.1 282.0,746.4C282.3,746.7 284.2,753.2 284.5,753.5C284.8,753.8 285.6,750.9 286.0,750.5C286.9,749.4 288.9,747.8 290.1,746.9C291.3,746.0 292.1,744.2 293.1,744.9C294.1,745.6 295.3,751.2 296.1,751.0C296.4,750.9 297.7,744.1 298.1,743.4C299.1,741.6 301.1,739.4 302.1,740.4C302.5,740.8 303.8,749.5 304.1,749.4C304.4,749.3 306.1,740.3 306.6,739.4C307.8,737.2 310.1,736.7 311.2,736.4C311.6,736.3 313.0,737.6 313.2,737.4C313.4,737.2 314.3,733.3 314.7,732.9C315.7,731.9 317.8,732.4 319.2,731.4C320.6,730.4 321.7,727.8 323.2,726.8C324.7,725.8 327.0,726.1 328.2,725.3C328.7,725.0 329.8,722.3 330.3,721.8C331.5,720.6 333.6,719.5 335.3,718.3C337.0,717.0 338.6,715.6 340.3,714.3C342.0,713.0 343.6,711.6 345.3,710.3C347.0,708.9 348.7,707.6 350.4,706.2C352.1,704.9 353.7,703.5 355.4,702.2C357.1,700.9 358.7,699.5 360.4,698.2C362.1,696.9 363.7,695.6 365.4,694.2C367.1,692.8 368.8,691.0 370.5,689.6C372.2,688.2 373.8,686.9 375.5,685.6C377.2,684.4 378.8,683.2 380.5,682.1C382.2,681.0 383.8,680.0 385.5,679.1C387.2,678.2 388.9,677.4 390.6,676.6C392.3,675.9 393.9,675.2 395.6,674.6C397.3,674.0 398.9,673.4 400.6,672.9C402.3,672.4 404.0,671.9 405.6,671.6C407.2,671.3 408.3,671.2 410.0,671.1C411.7,671.0 414.0,670.8 415.7,670.9C417.4,671.0 418.3,671.2 420.0,671.6C421.7,672.0 422.2,671.6 425.8,673.4C429.4,675.1 436.3,678.3 441.6,682.1C446.9,685.9 452.1,691.8 457.4,696.3C462.7,700.8 467.9,705.4 473.2,709.0C478.5,712.6 483.7,715.1 489.0,717.7C494.3,720.3 500.1,723.0 504.8,724.8C509.5,726.5 514.2,728.1 517.4,728.2C520.5,728.3 521.9,727.2 523.7,725.6C525.6,724.0 526.9,722.6 528.5,718.5C530.1,714.4 531.6,705.9 533.2,701.1C534.8,696.4 536.4,692.4 538.0,690.0C539.6,687.6 541.2,688.5 542.7,686.9C544.2,685.3 545.5,680.2 547.1,680.5C548.7,680.8 550.3,684.2 552.2,688.4C554.1,692.6 556.7,702.2 558.5,705.8C560.3,709.4 561.8,709.3 563.2,710.2C564.7,711.1 565.8,711.8 567.2,711.3C568.7,710.8 570.6,706.9 571.9,707.4C573.2,707.9 573.6,712.4 575.1,714.5C576.6,716.6 577.6,717.8 580.6,720.0C583.6,722.2 588.8,726.2 593.3,727.9C597.8,729.6 601.4,729.5 607.5,730.3C613.6,731.0 625.4,732.1 630.1,732.4C634.8,732.7 633.3,731.9 635.8,732.0C638.3,732.1 642.3,732.2 645.2,733.0C648.1,733.8 649.4,734.8 653.1,736.6C656.8,738.4 663.3,742.0 667.4,743.7C671.5,745.4 673.9,745.9 677.5,746.6C681.1,747.3 683.5,747.6 689.0,748.0C694.5,748.4 704.5,748.8 710.5,749.1C716.5,749.4 720.9,750.0 724.9,749.9C728.9,749.8 732.3,747.7 734.2,748.5C735.0,748.8 735.5,754.4 736.3,754.8C738.3,755.8 743.5,755.2 746.4,754.8C749.3,754.4 751.8,752.8 753.6,752.4C755.4,752.0 756.0,752.2 757.2,752.6C758.4,753.0 759.4,754.2 760.8,754.5C762.2,754.8 764.5,755.1 765.8,754.5C767.1,753.9 767.5,750.9 768.6,750.9C769.7,750.9 770.9,754.5 772.2,754.8C773.5,755.1 774.9,752.8 776.5,752.8C778.1,752.8 780.2,755.2 781.6,754.8C783.0,754.4 784.1,750.3 784.9,750.2C785.2,750.2 785.8,754.1 786.6,754.2C788.6,754.6 792.8,753.0 796.6,752.4C800.4,751.8 806.8,749.9 809.3,750.3C810.3,750.5 810.8,754.5 811.5,754.8C813.3,755.5 817.5,754.7 820.1,754.6C822.7,754.5 825.6,754.4 827.3,754.1C829.0,753.8 828.5,752.6 830.2,752.8C831.9,752.9 835.8,755.4 837.3,755.0C837.9,754.9 839.0,750.8 839.5,750.7C840.7,750.4 841.5,752.7 844.5,753.1C847.5,753.5 853.8,753.7 857.4,753.4C861.0,753.1 864.1,751.6 866.0,751.3C867.9,751.0 868.1,750.9 869.0,751.5C869.4,751.7 870.7,754.8 871.5,755.0C873.4,755.4 877.0,753.9 880.4,753.8C883.8,753.7 887.9,754.5 891.9,754.6C895.9,754.7 901.7,755.3 904.1,754.6C905.1,754.3 905.9,750.6 906.5,750.5C908.0,750.3 910.7,752.6 913.4,753.4C916.1,754.1 920.9,755.1 922.8,755.0C923.6,755.0 924.6,752.8 924.9,752.8C925.7,752.8 926.5,754.5 927.5,754.8C928.5,755.1 929.5,755.2 930.7,754.6C932.0,754.0 933.6,752.1 935.0,751.4C936.4,750.7 938.2,751.0 939.3,750.5C939.7,750.3 941.0,748.4 941.4,748.1C942.5,747.5 944.6,746.0 945.7,746.7C946.1,747.0 947.6,752.5 947.9,752.4C948.2,752.3 949.7,746.2 950.0,745.7C950.3,745.2 951.8,745.1 952.0,745.3C952.2,745.5 953.3,749.0 953.6,748.8C954.5,748.4 955.8,744.0 957.2,742.8C958.6,741.6 960.5,741.2 962.2,741.6C963.9,742.0 966.2,745.5 967.3,745.2C967.7,745.1 968.3,740.3 968.7,739.9C969.8,738.9 972.7,738.7 973.7,739.5C974.1,739.8 974.7,744.9 974.9,744.8C975.1,744.7 976.3,739.0 976.6,738.5C977.4,737.1 978.5,738.2 979.5,736.6C980.5,735.0 981.6,731.2 982.3,728.7C982.6,727.7 983.6,722.9 983.8,721.5C984.0,720.1 985.0,709.3 985.2,707.2C985.4,705.1 986.6,691.2 986.8,689.4C987.0,687.6 988.0,681.5 988.3,680.6C988.6,679.7 990.3,675.8 990.7,675.7C991.6,675.4 992.8,677.1 993.6,678.6C993.9,679.2 995.3,684.6 995.6,684.5C995.9,684.4 997.2,677.7 997.5,677.6C997.8,677.5 999.2,681.2 999.5,682.5C999.8,683.8 1001.2,695.5 1001.5,697.3C1001.8,699.1 1003.1,707.9 1003.4,709.0C1004.2,711.8 1005.6,711.4 1006.4,713.9C1006.7,714.9 1007.7,723.6 1007.9,723.7C1008.1,723.8 1009.5,716.4 1009.9,715.9C1010.8,714.6 1012.2,716.5 1013.2,715.9C1014.2,715.2 1015.4,712.5 1016.2,712.0C1016.5,711.8 1017.9,712.0 1018.1,712.9C1018.3,713.8 1019.5,725.6 1019.7,725.7C1019.9,725.8 1021.4,714.8 1021.7,713.9C1022.0,713.0 1023.7,712.5 1024.0,712.9C1024.3,713.3 1026.1,719.7 1026.4,719.8C1026.7,719.9 1027.5,715.0 1027.9,714.9C1028.8,714.7 1030.6,717.8 1031.9,718.8C1033.2,719.8 1034.2,720.5 1035.8,720.8C1037.4,721.1 1039.9,721.0 1041.7,720.8C1043.5,720.6 1045.1,719.5 1046.6,719.8C1048.1,720.1 1049.4,722.1 1050.5,722.7C1051.6,723.4 1052.7,720.6 1053.4,723.7C1053.7,724.9 1054.5,741.5 1054.8,741.4C1055.5,741.2 1056.7,726.0 1057.4,722.7C1057.7,721.4 1059.0,721.0 1059.3,721.8C1059.6,722.6 1061.0,734.4 1061.3,734.5C1061.6,734.6 1062.9,723.2 1063.2,722.7C1064.0,721.4 1065.2,725.7 1066.2,726.7C1067.2,727.7 1068.1,729.1 1069.1,728.6C1070.1,728.1 1071.3,722.7 1072.1,723.7C1072.4,724.1 1073.7,734.6 1074.0,734.5C1074.3,734.4 1075.5,723.7 1076.0,722.7C1077.2,720.1 1079.6,720.8 1080.9,718.8C1082.2,716.8 1082.8,713.6 1083.8,711.0C1084.8,708.4 1085.8,706.1 1086.8,703.1C1087.8,700.1 1088.9,695.4 1089.7,693.3C1090.0,692.5 1091.4,691.1 1091.7,690.4C1092.0,689.7 1093.3,684.5 1093.6,683.5C1094.4,681.0 1095.3,678.6 1096.6,675.7C1097.9,672.8 1099.9,668.0 1101.5,665.9C1103.1,663.8 1104.9,662.9 1106.4,662.9C1107.9,662.9 1109.2,663.8 1110.3,665.9C1111.4,668.0 1112.2,672.7 1113.2,675.7C1114.2,678.7 1115.6,683.9 1116.6,683.9C1117.0,683.9 1118.8,677.3 1119.1,675.7C1119.9,671.7 1120.9,663.3 1121.7,660.0C1122.0,658.7 1123.6,655.7 1124.0,656.1C1124.9,657.1 1125.8,662.6 1127.0,665.9C1128.2,669.2 1129.8,673.9 1130.9,675.7C1131.3,676.4 1133.0,676.9 1133.4,676.7C1134.4,676.2 1135.4,673.9 1136.8,672.7C1138.2,671.6 1140.1,669.8 1141.7,669.8C1143.3,669.8 1145.0,671.4 1146.6,672.7C1148.2,674.0 1150.3,676.8 1151.5,677.6C1152.0,677.9 1153.5,678.0 1153.8,677.6C1154.6,676.6 1155.3,676.7 1156.4,671.8C1157.5,666.9 1159.2,656.1 1160.3,648.2C1161.4,640.4 1162.2,631.2 1163.2,624.7C1164.2,618.2 1165.1,612.1 1166.2,609.0C1167.3,605.9 1168.8,607.3 1170.1,606.1C1171.4,604.9 1172.8,601.0 1174.0,601.8C1175.2,602.6 1176.2,608.0 1177.0,611.0C1177.3,612.2 1178.5,618.3 1178.7,620.0C1178.9,621.7 1180.0,633.7 1180.3,635.9C1180.6,638.1 1182.3,650.9 1182.7,653.3C1183.6,659.4 1184.6,667.1 1185.9,672.4C1187.2,677.7 1188.8,681.8 1190.6,685.1C1192.4,688.4 1195.2,690.2 1197.0,692.2C1198.8,694.2 1200.5,695.9 1201.7,697.0C1202.2,697.4 1203.8,699.1 1204.1,698.9C1204.4,698.7 1205.9,696.4 1206.2,694.6C1206.5,692.8 1207.9,675.2 1208.1,672.4C1208.3,669.6 1209.4,654.8 1209.7,653.3C1210.0,651.8 1211.7,651.5 1212.1,650.5C1213.1,648.1 1214.5,642.5 1216.0,639.0C1217.5,635.5 1219.6,632.7 1220.8,629.5C1221.3,628.2 1222.9,622.6 1223.2,620.0C1224.1,613.5 1225.1,598.1 1226.0,590.7C1226.9,583.3 1227.9,579.2 1228.8,575.7C1229.7,572.2 1230.5,569.2 1231.6,569.8C1232.7,570.4 1234.0,577.0 1235.3,579.5C1236.5,582.0 1237.8,583.6 1239.1,585.1C1240.3,586.6 1241.6,588.6 1242.8,588.8C1244.0,588.9 1245.2,586.1 1246.5,586.0C1247.8,585.9 1249.2,589.0 1250.3,587.9C1251.4,586.8 1252.2,581.7 1253.1,579.5C1253.4,578.6 1255.2,574.3 1255.5,574.8C1255.8,575.3 1257.4,584.6 1257.7,586.9C1258.0,589.2 1259.2,605.8 1259.6,609.3C1260.6,618.0 1262.5,631.9 1263.7,639.0C1264.9,646.1 1265.5,647.7 1266.8,651.7C1268.1,655.7 1269.9,660.1 1271.6,662.9C1273.3,665.7 1275.1,669.5 1277.1,668.7C1279.1,668.0 1281.5,659.4 1283.5,658.4C1285.5,657.4 1287.2,662.4 1289.0,662.9C1290.8,663.4 1292.9,660.1 1294.6,661.6C1296.3,663.1 1297.8,668.9 1299.4,671.6C1301.0,674.3 1302.4,675.5 1304.1,677.9C1305.8,680.3 1308.1,685.5 1309.4,685.9C1310.7,686.3 1311.3,684.7 1312.1,680.3C1312.4,678.6 1314.1,662.7 1314.4,659.7C1314.7,656.7 1316.4,638.0 1316.8,635.9C1317.7,630.6 1319.0,629.7 1320.0,627.9C1321.0,626.1 1321.9,625.9 1323.0,625.0C1324.1,624.1 1325.6,623.3 1326.8,622.4C1328.0,621.5 1329.0,618.7 1330.2,619.6C1331.5,620.5 1332.8,625.0 1334.3,628.0C1335.8,631.0 1337.6,634.5 1338.9,637.3C1340.2,640.1 1340.8,642.4 1342.0,645.0C1343.2,647.6 1344.5,652.4 1346.2,653.0C1348.0,653.6 1350.1,650.9 1352.5,648.6C1354.9,646.3 1357.9,642.4 1360.5,639.0C1363.1,635.6 1365.7,631.7 1368.0,628.0C1370.3,624.3 1373.1,619.0 1374.4,616.8C1374.9,615.9 1375.5,614.7 1375.6,614.5"/>
<path stroke="#ff00ff" d="M142.9,857.0C143.6,857.0 145.9,856.9 147.2,856.8C148.5,856.7 149.5,856.6 150.8,856.6C152.1,856.6 153.9,856.5 155.1,856.6C156.3,856.7 157.1,857.1 157.9,857.2C158.2,857.2 159.8,857.2 160.1,857.3C160.4,857.4 161.7,858.3 161.9,858.4C162.1,858.5 163.5,858.5 163.7,858.4C163.9,858.3 165.2,857.0 165.5,857.0C165.8,857.0 167.3,859.0 167.6,859.1C167.9,859.2 169.1,858.4 169.4,858.4C169.7,858.4 171.3,858.7 171.6,858.8C171.9,858.9 173.2,859.7 173.4,859.6C173.6,859.5 175.0,857.1 175.2,857.0C175.4,856.9 176.7,857.6 177.0,858.1C177.3,858.6 178.8,864.9 179.1,864.9C179.4,864.9 181.0,858.8 181.3,858.4C181.6,858.0 182.8,858.9 183.1,859.1C183.9,859.6 185.2,861.2 185.9,861.6C186.2,861.8 187.2,861.8 187.4,861.6C187.6,861.4 188.5,858.5 188.8,858.8C189.1,859.1 191.0,865.3 191.3,865.6C191.6,865.9 192.9,863.1 193.1,862.7C193.3,862.3 194.6,857.8 194.9,859.1C195.2,860.4 197.1,882.8 197.4,882.8C197.7,882.8 199.5,859.7 199.9,858.8C200.8,856.6 201.8,869.6 203.0,869.9C204.2,870.2 205.7,860.5 206.8,860.6C207.9,860.7 208.4,870.7 209.5,870.3C210.6,869.9 212.0,858.5 213.2,858.4C214.4,858.3 215.4,869.6 216.7,869.5C218.0,869.4 219.7,859.8 220.8,858.1C221.2,857.4 223.0,858.9 223.3,859.1C223.6,859.3 224.9,860.9 225.1,860.9C225.3,860.9 226.6,858.3 226.9,858.4C227.2,858.5 228.7,862.6 229.0,862.7C229.3,862.8 230.9,860.5 231.2,860.6C231.5,860.7 233.1,863.6 233.3,863.8C233.5,864.0 234.1,862.9 234.3,864.2C234.5,865.5 235.5,883.4 235.7,884.0C235.9,884.6 236.7,872.8 236.8,872.5C236.9,872.2 237.4,879.0 237.5,879.0C237.6,879.0 238.2,873.4 238.3,872.5C238.4,871.6 239.5,864.6 239.7,865.3C239.9,866.0 241.2,883.4 241.5,883.3C241.8,883.2 243.7,864.7 244.0,863.5C244.3,862.3 245.5,865.8 245.8,865.7C246.6,865.4 247.7,860.0 248.5,861.4C248.8,862.0 250.2,874.3 250.5,874.3C250.8,874.3 252.3,862.4 252.6,861.7C252.9,861.0 254.5,863.2 254.8,863.2C255.1,863.2 256.3,860.6 256.6,861.4C256.9,862.2 258.4,875.5 258.7,875.4C259.0,875.3 260.9,860.1 261.2,860.6C261.5,861.1 263.5,881.6 263.7,882.2C263.9,882.8 264.7,869.9 264.8,869.3C264.9,868.7 265.8,873.9 265.9,873.9C266.0,873.9 266.8,869.9 267.0,868.9C267.2,867.9 268.5,859.7 268.8,859.2C269.1,858.7 271.1,861.4 271.3,861.7C271.5,862.0 272.2,861.4 272.4,863.2C272.6,865.0 273.6,888.6 273.8,889.0C274.0,889.4 274.7,870.9 274.9,868.9C275.1,866.9 277.1,859.4 277.4,858.9C278.2,857.7 279.1,861.8 280.0,861.8C280.9,861.8 282.2,858.8 282.9,858.9C283.2,858.9 284.0,862.3 284.3,862.5C285.0,863.1 286.1,863.5 287.2,862.5C288.3,861.5 289.6,857.2 290.8,856.4C292.0,855.6 293.7,857.6 294.4,857.5C294.7,857.5 294.9,855.3 295.1,855.7C295.3,856.1 296.7,863.1 296.9,862.9C297.1,862.7 298.3,853.3 298.7,852.5C299.6,850.5 301.7,849.3 302.6,850.7C303.0,851.3 304.1,861.3 304.4,861.1C305.2,860.5 306.3,849.8 307.3,847.4C308.3,845.0 309.3,846.7 310.2,846.7C310.6,846.7 312.4,847.7 312.7,847.4C313.0,847.1 313.8,843.3 314.1,842.8C314.4,842.3 316.3,840.7 316.6,840.6C316.9,840.5 318.7,841.6 319.1,841.3C320.1,840.6 321.5,837.9 322.4,836.7C322.8,836.2 324.1,834.3 324.5,834.1C325.4,833.5 327.3,833.8 328.1,833.1C328.4,832.8 329.1,830.7 329.5,830.2C330.4,829.0 332.5,827.3 333.8,825.9C335.1,824.5 335.9,823.1 337.4,821.6C338.8,820.1 340.7,818.3 342.5,816.6C344.3,814.9 346.6,812.8 348.2,811.2C349.8,809.6 350.2,808.8 351.8,807.2C353.4,805.6 356.2,802.8 357.5,801.5C358.0,801.0 359.3,799.8 359.7,799.3C360.8,798.2 362.4,796.2 364.0,794.7C365.6,793.2 366.6,792.4 369.0,790.0C371.4,787.6 374.3,783.8 378.1,780.2C381.9,776.7 387.7,771.6 391.9,768.7C396.1,765.8 399.6,764.4 403.4,763.0C407.2,761.6 411.1,760.3 414.9,760.2C418.7,760.1 422.6,760.9 426.4,762.5C430.2,764.1 434.0,766.9 437.8,769.9C441.6,772.9 445.5,776.4 449.3,780.2C453.1,784.0 457.0,788.6 460.8,792.8C464.6,797.0 468.5,802.2 472.3,805.5C476.1,808.8 480.0,810.1 483.8,812.4C487.6,814.7 491.5,816.6 495.3,819.3C499.1,822.0 503.2,826.2 506.8,828.4C510.4,830.6 514.2,832.4 517.1,832.4C520.0,832.4 521.9,831.5 524.0,828.4C526.1,825.2 527.8,819.0 529.7,813.5C531.6,808.0 533.8,799.3 535.5,795.1C537.2,790.9 538.3,790.0 540.1,788.2C541.9,786.4 544.6,783.9 546.3,784.1C548.0,784.3 548.9,786.8 550.4,789.4C551.9,792.0 553.3,795.8 555.0,799.7C556.7,803.7 558.8,810.3 560.7,813.1C562.6,815.9 564.8,816.0 566.5,816.3C568.2,816.6 569.6,814.0 571.1,815.1C572.6,816.2 573.4,820.1 575.7,822.7C578.0,825.3 581.5,828.2 584.9,830.7C588.3,833.2 592.1,836.0 596.3,837.6C600.5,839.2 605.8,839.5 610.0,840.4C614.2,841.2 617.9,842.2 621.5,842.7C625.1,843.2 627.9,843.1 631.5,843.4C635.1,843.7 639.4,843.8 643.0,844.7C646.6,845.6 649.0,846.8 653.1,848.7C657.2,850.6 662.9,853.9 667.4,855.9C671.9,857.9 675.6,859.5 680.4,860.6C685.2,861.8 690.1,862.3 696.1,862.8C702.1,863.3 711.4,863.5 716.2,863.8C721.0,864.1 721.5,864.6 724.9,864.5C728.2,864.4 732.9,863.6 736.3,863.1C739.6,862.6 743.1,860.9 745.0,861.2C746.9,861.5 746.7,863.8 747.8,864.8C748.9,865.8 750.2,867.1 751.4,867.1C752.6,867.1 753.8,864.7 755.0,864.5C756.2,864.3 757.6,865.2 758.6,865.9C759.0,866.2 760.1,868.2 760.8,868.4C762.6,868.8 767.5,868.9 769.4,868.5C771.3,868.1 771.4,866.3 772.2,866.2C772.5,866.2 774.1,868.1 774.4,868.1C774.7,868.1 776.1,866.2 776.5,866.2C777.5,866.2 779.0,868.5 780.1,868.4C781.2,868.3 782.1,865.7 783.0,865.7C783.3,865.7 784.3,868.5 785.2,868.5C787.5,868.6 792.7,867.1 796.6,866.2C800.5,865.4 806.1,863.0 808.6,863.4C811.1,863.8 809.6,867.7 811.5,868.5C813.4,869.3 817.6,868.3 820.1,868.2C822.6,868.1 825.0,868.1 826.6,867.8C828.2,867.5 828.2,866.1 829.9,866.2C831.6,866.3 835.5,868.9 837.0,868.5C837.6,868.4 838.6,864.2 839.1,864.1C840.4,863.8 841.5,866.3 844.5,866.7C847.5,867.1 853.6,867.0 857.4,866.7C861.2,866.4 865.6,865.1 867.5,864.8C868.3,864.7 868.7,864.4 869.0,864.6C869.3,864.8 870.6,868.3 871.4,868.5C873.3,869.0 877.0,867.4 880.4,867.4C883.8,867.4 887.9,868.0 891.9,868.2C895.9,868.4 901.7,869.2 904.1,868.5C905.1,868.2 905.9,864.0 906.5,863.8C908.0,863.3 910.7,864.9 913.4,865.7C916.1,866.5 920.9,868.8 922.8,868.5C923.6,868.4 924.6,864.4 924.9,864.2C925.2,864.0 926.7,865.6 927.1,865.7C928.1,866.0 929.8,865.2 930.7,865.7C931.1,865.9 932.5,868.7 932.8,868.8C933.6,869.1 934.9,867.8 935.7,867.4C936.0,867.2 937.3,866.2 937.5,866.2C937.7,866.2 938.7,867.8 939.0,867.7C939.3,867.6 941.0,864.9 941.4,864.5C942.5,863.6 944.6,861.7 945.7,862.4C946.1,862.7 947.6,868.6 947.9,868.5C948.2,868.4 949.7,862.1 950.0,861.6C950.3,861.1 952.0,860.7 952.2,860.9C952.4,861.1 953.3,865.3 953.6,865.2C954.3,865.0 955.1,860.9 956.5,859.5C957.9,858.1 960.4,856.4 962.2,856.6C964.0,856.8 966.2,861.1 967.3,860.9C967.7,860.8 968.3,855.6 968.7,855.2C969.8,854.1 972.7,853.7 973.7,854.5C974.1,854.8 974.7,860.3 974.9,860.2C975.1,860.1 976.6,853.6 976.9,853.0C977.7,851.5 978.5,852.6 979.5,850.9C980.5,849.2 981.8,846.0 982.6,843.0C982.9,841.8 983.9,834.4 984.1,832.9C984.3,831.4 985.1,821.6 985.2,820.0C985.3,818.4 985.7,810.6 985.9,809.2C986.1,807.8 987.8,799.3 988.1,798.3C989.0,795.8 990.1,794.3 991.0,794.4C991.4,794.5 993.2,798.4 993.5,799.1C993.8,799.8 995.2,805.6 995.5,805.5C995.8,805.4 997.4,797.4 997.7,797.4C998.0,797.4 999.9,804.4 1000.2,805.8C1000.5,807.2 1001.6,817.8 1001.9,818.4C1002.2,819.0 1004.1,815.2 1004.4,815.1C1004.7,815.0 1005.9,816.3 1006.1,816.8C1006.3,817.3 1007.6,823.1 1007.8,822.6C1008.0,822.1 1009.1,810.5 1009.4,809.2C1010.1,806.0 1011.1,806.0 1012.0,803.3C1012.3,802.2 1014.2,794.4 1014.5,793.2C1014.8,792.0 1016.7,784.9 1017.0,784.8C1017.3,784.7 1019.0,792.7 1019.2,792.4C1019.4,792.1 1020.2,781.7 1020.4,780.6C1020.6,779.5 1022.6,776.3 1022.9,775.6C1023.2,774.9 1025.0,771.1 1025.4,770.6C1026.3,769.3 1027.3,767.6 1028.4,767.7C1029.5,767.8 1030.9,769.2 1032.1,771.4C1033.3,773.5 1034.4,777.2 1035.5,780.6C1036.6,784.0 1037.7,788.5 1038.8,791.6C1039.9,794.7 1041.1,797.5 1042.2,799.1C1043.3,800.7 1044.6,800.4 1045.6,801.1C1046.0,801.4 1047.8,803.4 1048.1,803.3C1048.4,803.2 1050.3,799.7 1050.6,799.1C1050.9,798.5 1052.8,794.3 1053.1,794.9C1053.4,795.5 1054.6,807.8 1054.8,807.5C1055.0,807.2 1056.2,791.5 1056.5,789.9C1056.8,788.3 1058.7,783.9 1059.0,784.0C1059.3,784.1 1061.2,790.9 1061.5,790.7C1061.8,790.5 1062.9,781.3 1063.2,780.6C1063.5,779.9 1065.3,779.5 1065.7,779.8C1066.7,780.5 1068.1,784.0 1069.1,784.8C1069.5,785.1 1071.3,784.0 1071.6,784.8C1071.9,785.6 1073.8,796.9 1074.1,797.4C1074.4,797.9 1075.4,792.1 1075.8,792.4C1076.9,793.1 1079.1,801.9 1080.8,801.6C1082.5,801.3 1084.2,796.4 1085.9,790.7C1087.6,785.0 1089.8,772.2 1090.9,767.2C1091.3,765.2 1092.4,761.6 1092.6,760.5C1092.8,759.4 1094.0,751.6 1094.3,750.4C1095.1,747.3 1096.4,743.8 1097.6,742.0C1098.8,740.2 1099.6,739.4 1101.3,739.5C1103.0,739.6 1106.2,742.0 1107.7,742.8C1108.3,743.1 1109.8,743.4 1110.2,744.0C1111.2,745.5 1112.5,749.6 1113.6,752.1C1114.7,754.6 1115.9,760.5 1117.0,758.8C1118.1,757.1 1119.2,745.9 1120.3,742.0C1121.4,738.1 1122.6,734.8 1123.7,735.6C1124.8,736.4 1125.7,742.6 1127.1,747.0C1128.5,751.4 1130.6,761.1 1132.1,762.2C1133.6,763.3 1135.0,756.0 1136.3,753.8C1137.6,751.5 1138.3,748.7 1140.0,748.7C1141.7,748.7 1144.4,751.4 1146.4,753.8C1148.4,756.2 1150.7,762.5 1152.2,763.0C1153.7,763.5 1154.3,762.0 1155.6,757.1C1156.9,752.2 1158.5,741.3 1159.8,733.6C1161.1,725.9 1162.1,717.0 1163.2,711.0C1164.3,705.0 1165.1,700.9 1166.2,697.3C1167.3,693.7 1168.7,692.8 1170.1,689.4C1171.5,686.0 1173.2,677.2 1174.4,676.8C1175.6,676.3 1176.2,681.6 1177.1,686.7C1177.4,688.7 1179.2,704.1 1179.5,707.3C1179.8,710.5 1181.5,731.3 1181.9,734.3C1182.8,741.7 1184.0,747.7 1185.1,751.7C1186.2,755.7 1186.8,754.7 1188.3,758.1C1189.8,761.5 1191.8,768.7 1193.8,772.4C1195.8,776.1 1198.4,778.4 1200.2,780.3C1202.0,782.2 1203.5,784.6 1204.6,783.8C1205.0,783.5 1206.5,777.8 1206.8,775.6C1207.1,773.4 1208.6,752.2 1208.9,750.2C1209.7,745.2 1210.4,748.6 1211.6,745.4C1212.8,742.2 1214.5,735.6 1216.0,731.1C1217.5,726.6 1219.3,725.0 1220.8,718.4C1222.3,711.8 1223.5,699.9 1224.8,691.4C1226.1,682.9 1227.5,672.7 1228.7,667.6C1229.9,662.5 1231.0,660.2 1232.2,661.0C1233.4,661.8 1234.6,669.2 1235.9,672.4C1237.2,675.6 1238.3,678.5 1239.8,680.3C1241.2,682.1 1243.1,682.5 1244.6,683.2C1246.1,684.0 1247.5,685.1 1248.6,684.8C1249.0,684.7 1250.7,681.6 1251.0,681.1C1251.8,679.8 1252.8,675.9 1253.7,676.8C1254.6,677.7 1255.6,681.4 1256.5,686.7C1256.8,688.8 1258.5,705.9 1258.9,708.9C1259.8,716.3 1261.0,724.8 1262.1,731.1C1263.1,737.5 1264.0,742.6 1265.2,747.0C1266.4,751.4 1267.6,754.9 1269.2,757.3C1270.8,759.7 1273.2,760.5 1274.8,761.6C1276.4,762.7 1277.2,764.5 1278.7,764.1C1280.2,763.7 1282.5,759.6 1284.0,759.2C1285.5,758.8 1286.4,760.9 1287.5,761.7C1288.6,762.5 1289.5,764.0 1290.6,764.1C1291.7,764.2 1293.0,761.4 1294.1,762.5C1295.2,763.6 1295.7,768.5 1297.0,770.8C1298.3,773.1 1299.9,774.4 1301.7,776.3C1303.5,778.2 1306.3,781.8 1307.8,782.2C1309.3,782.6 1309.7,781.4 1310.5,778.7C1310.8,777.6 1312.6,767.9 1312.9,766.0C1313.2,764.1 1314.8,752.0 1315.2,750.2C1316.1,745.6 1316.9,740.3 1318.4,738.3C1319.9,736.3 1322.0,738.4 1324.0,738.3C1326.0,738.2 1328.8,737.3 1330.3,737.8C1330.9,738.0 1332.3,741.0 1332.7,741.4C1333.6,742.4 1334.7,743.3 1335.9,743.8C1337.1,744.3 1338.5,744.2 1339.8,744.6C1341.1,745.0 1342.2,747.0 1343.8,746.2C1345.4,745.4 1347.4,742.6 1349.4,739.8C1351.4,737.0 1353.3,733.9 1355.7,729.5C1358.1,725.1 1361.3,718.6 1363.7,713.7C1366.1,708.8 1368.0,704.9 1370.0,700.2C1372.0,695.5 1374.7,688.0 1375.6,685.5"/>

</g>
<g stroke="#000" stroke-width="3.5" stroke-linecap="round" fill="none">
<rect x="142.6" y="16.65" width="1232.95" height="909.25" stroke-linejoin="round"/>
<line x1="142.50" y1="927.2" x2="142.50" y2="944.7"/><line x1="235.92" y1="927.2" x2="235.92" y2="935.9"/><line x1="329.33" y1="927.2" x2="329.33" y2="944.7"/><line x1="422.75" y1="927.2" x2="422.75" y2="935.9"/><line x1="516.17" y1="927.2" x2="516.17" y2="944.7"/><line x1="609.58" y1="927.2" x2="609.58" y2="935.9"/><line x1="703.00" y1="927.2" x2="703.00" y2="944.7"/><line x1="796.42" y1="927.2" x2="796.42" y2="935.9"/><line x1="889.83" y1="927.2" x2="889.83" y2="944.7"/><line x1="983.25" y1="927.2" x2="983.25" y2="935.9"/><line x1="1076.67" y1="927.2" x2="1076.67" y2="944.7"/><line x1="1170.08" y1="927.2" x2="1170.08" y2="935.9"/><line x1="1263.50" y1="927.2" x2="1263.50" y2="944.7"/><line x1="1356.92" y1="927.2" x2="1356.92" y2="935.9"/>
</g>
<g font-size="36.2px"><text x="142.50" y="983.9" text-anchor="middle">4000</text><text x="329.33" y="983.9" text-anchor="middle">3500</text><text x="516.17" y="983.9" text-anchor="middle">3000</text><text x="703.00" y="983.9" text-anchor="middle">2500</text><text x="889.83" y="983.9" text-anchor="middle">2000</text><text x="1076.67" y="983.9" text-anchor="middle">1500</text><text x="1263.50" y="983.9" text-anchor="middle">1000</text></g>
<g font-size="40px">
<text x="558.3" y="1042" font-size="39.6px">Wavenumber</text>
<text x="779.5" y="1042.5" font-size="46px">(</text>
<text x="794" y="1042">cm</text>
<text x="843" y="1017.5" font-size="41px">-</text>
<text x="857.3" y="1017.2" font-size="41px">1</text>
<text x="876.5" y="1042.5" font-size="46px">)</text>
</g>
<text transform="translate(51.2,607.5) rotate(-90)" font-size="46px">Intensity</text>
<g font-size="35.5px" letter-spacing="0.6px">
<text x="170.5" y="350">PVA</text>
<text x="164.5" y="458.6">PVA-5G</text>
<text x="160.8" y="599.7">PVA-10G</text>
<text x="160.8" y="714.5">PVA-20G</text>
<text x="166.7" y="829.3">PVA-30G</text>
</g>
</svg>
</body></html>
